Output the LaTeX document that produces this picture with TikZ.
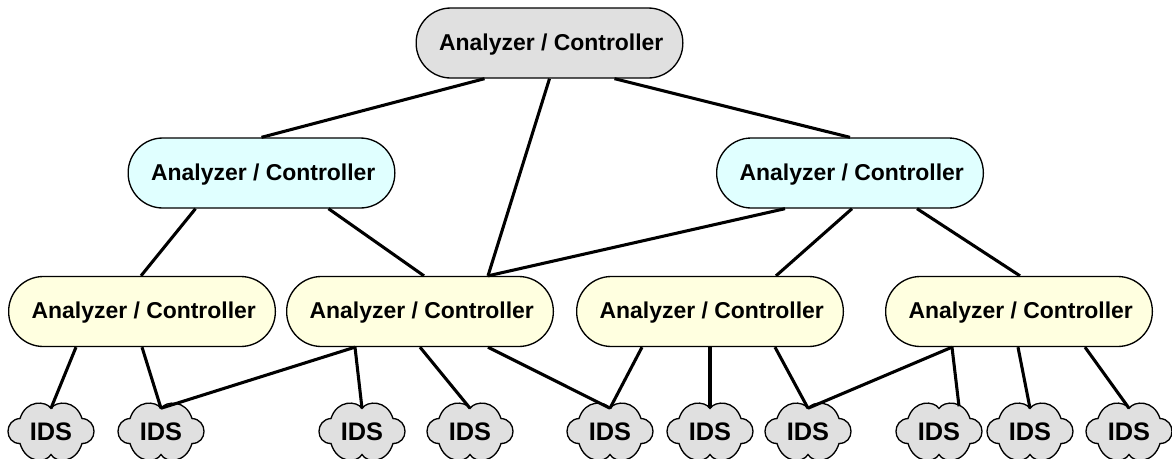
\documentclass[tikz,border=0pt]{standalone}
\usepackage{fontspec}
\setmainfont{Liberation Sans}
\usetikzlibrary{calc}

\tikzset{
    ctrl/.style={draw, line width=1pt, rectangle, rounded corners=26pt, minimum width=200pt, minimum height=52.5pt, text height=14pt, text depth=3.2pt, font=\fontsize{17.2}{20}\selectfont\bfseries, execute at begin node=\hspace{2.6pt}},
    idstext/.style={inner sep=0pt, minimum height=34.5pt, text height=13.6pt, text depth=0pt, font=\fontsize{19}{20}\selectfont\bfseries},
    wire/.style={line width=2.3pt},
    idscloud/.pic={
        \draw[line width=1pt, fill=idsgray] (0, -23) .. controls (-5, -31) and (-25, -32) .. (-31, -13)
            .. controls (-47, -12) and (-47, 12) .. (-31, 12)
            .. controls (-25, 32) and (-5, 32) .. (0, 23)
            .. controls (5, 32) and (25, 32) .. (31, 12)
            .. controls (47, 12) and (47, -12) .. (31, -13)
            .. controls (25, -32) and (5, -31) .. (0, -23) -- cycle;
    },
}
\definecolor{idsgray}{HTML}{E0E0E0}
\definecolor{midcyan}{HTML}{E0FFFF}
\definecolor{lowyellow}{HTML}{FFFFE0}

\begin{document}
\begin{tikzpicture}[x=.75pt, y=-.75pt]
\useasboundingbox (0, 0) rectangle (1172, 458);
\clip (0, 0) rectangle (1172, 458);

\node[ctrl, fill=idsgray] (top) at (549.5, 43) {Analyzer / Controller};
\node[ctrl, fill=midcyan] (midl) at (261.5, 173) {Analyzer / Controller};
\node[ctrl, fill=midcyan] (midr) at (850, 173) {Analyzer / Controller};
\node[ctrl, fill=lowyellow] (low1) at (142, 311.5) {Analyzer / Controller};
\node[ctrl, fill=lowyellow] (low2) at (420, 311.5) {Analyzer / Controller};
\node[ctrl, fill=lowyellow] (low3) at (710, 311.5) {Analyzer / Controller};
\node[ctrl, fill=lowyellow] (low4) at (1019, 311.5) {Analyzer / Controller};

\foreach \n/\x in {1/51, 2/161, 3/362, 4/470, 5/610, 6/710, 7/808, 8/939, 9/1030, 10/1129} {
    \pic at (\x, 431.5) {idscloud};
    \node[idstext] (ids\n) at (\x, 431.5) {IDS};
}

\foreach \a/\ax/\b/\bx in {top/-65/midl/0, top/0/low2/68, top/65/midr/0,
    midl/-66/low1/-1, midl/67/low2/4, midr/-65/low2/68, midr/2/low3/66, midr/67/low4/1}
    \draw[wire] ($(\a.south) + (\ax, 0)$) -- ($(\b.north) + (\bx, 0)$);

\foreach \a/\ax/\b/\bx in {low1/-66/ids1/0, low1/0/ids2/0, low2/-65/ids2/0, low2/-65/ids3/0,
    low2/0/ids4/0, low2/68/ids5/0, low3/-68/ids5/0, low3/0/ids6/0, low3/65/ids7/0,
    low4/-67/ids7/0, low4/-1/ids9/0, low4/66/ids10/0}
    \draw[wire] ($(\a.south) + (\ax, 0)$) -- ($(\b.north) + (\bx, 0)$);
\draw[wire] ($(low4.south) + (-67, 0)$) -- ($(ids8.north) + (20, -2)$);
\end{tikzpicture}
\end{document}
